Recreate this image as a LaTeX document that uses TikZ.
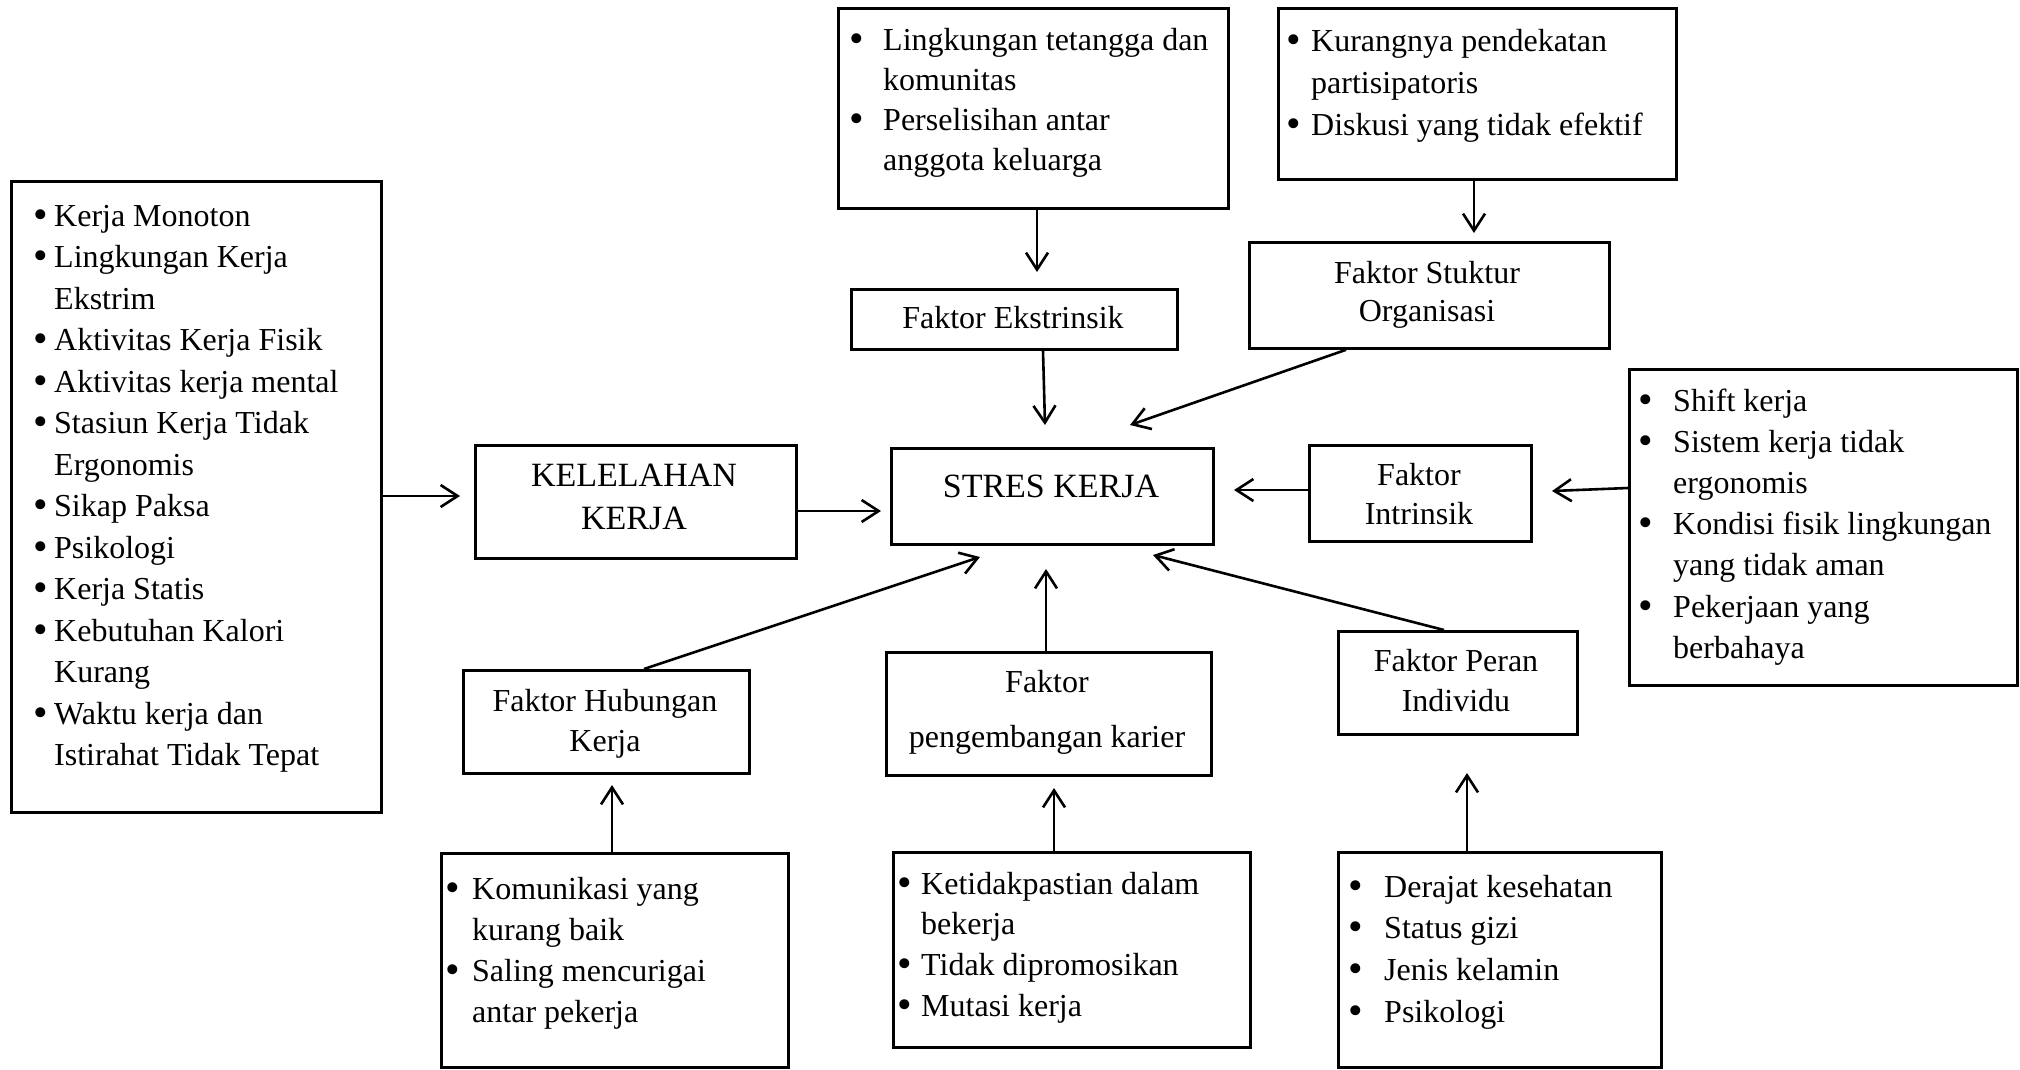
\documentclass[tikz,border=0pt]{standalone}
\usepackage{fontspec}
\usepackage{graphicx}
\setmainfont{Liberation Serif}
\usetikzlibrary{arrows.meta}
\newlength\bulw
\newcommand\bi{\makebox[\bulw][l]{\raisebox{-2pt}{\scalebox{1.3}{\textbullet}}}}
\newcommand\mkbox[5]{\node[bx, anchor=north west, minimum width={#4-#2}, minimum height={#5-#3}] (#1) at (#2,#3) {};}
\begin{document}
\begin{tikzpicture}[x=1pt,y=-1pt,
  bx/.style={draw, line width=2.8pt, inner sep=0pt},
  lst/.style={anchor=base west, inner sep=0pt, font=\fontsize{32}{41.5}\selectfont},
  lbl/.style={align=center, inner sep=0pt, font=\fontsize{32}{40}\selectfont,
    execute at begin node=\strut, execute at end node=\strut},
  arr/.style={line width=2.6pt, -{Straight Barb[length=17pt,width=22pt]}}]
\useasboundingbox (0,0) rectangle (2020,1069);
% boxes
\mkbox{L}{10}{180}{380}{811}
\mkbox{K}{474}{444}{795}{557}
\mkbox{S}{890}{447}{1212}{543}
\mkbox{I}{1308}{444}{1530}{540}
\mkbox{R}{1628}{368}{2016}{684}
\mkbox{T1}{837}{7}{1227}{207}
\mkbox{T2}{1277}{7}{1675}{178}
\mkbox{E}{850}{288}{1176}{348}
\mkbox{O}{1248}{241}{1608}{347}
\mkbox{H}{462}{669}{748}{772}
\mkbox{P}{885}{651}{1210}{774}
\mkbox{D}{1337}{630}{1576}{733}
\mkbox{B1}{440}{852}{787}{1066}
\mkbox{B2}{892}{851}{1249}{1046}
\mkbox{B3}{1337}{851}{1660}{1066}
% labels
\node[lbl, font=\fontsize{34}{42.5}\selectfont] (Kt) at (634,503) {KELELAHAN\\KERJA};
\node[lbl, font=\fontsize{34}{42.5}\selectfont] (St) at (1051,489) {STRES KERJA};
\node[lbl, font=\fontsize{32}{39}\selectfont] (It) at (1419,500) {Faktor\\Intrinsik};
\node[lbl] (Et) at (1013,320) {Faktor Ekstrinsik};
\node[lbl, font=\fontsize{32}{38}\selectfont] (Ot) at (1427,297) {Faktor Stuktur\\Organisasi};
\node[lbl] (Ht) at (605,726) {Faktor Hubungan\\Kerja};
\node[lbl, font=\fontsize{32}{55}\selectfont] (Pt) at (1047,717) {Faktor\\pengembangan karier};
\node[lbl] (Dt) at (1456,686) {Faktor Peran\\Individu};
% lists
\node[lst] (Lt) at (33,226) {\setlength\bulw{21pt}\begin{tabular}[t]{@{}l@{}l@{}}
\bi&Kerja Monoton\\
\bi&Lingkungan Kerja\\
&Ekstrim\\
\bi&Aktivitas Kerja Fisik\\
\bi&Aktivitas kerja mental\\
\bi&Stasiun Kerja Tidak\\
&Ergonomis\\
\bi&Sikap Paksa\\
\bi&Psikologi\\
\bi&Kerja Statis\\
\bi&Kebutuhan Kalori\\
&Kurang\\
\bi&Waktu kerja dan\\
&Istirahat Tidak Tepat
\end{tabular}};
\node[lst, font=\fontsize{32}{40}\selectfont] (T1t) at (849,50) {\setlength\bulw{34pt}\begin{tabular}[t]{@{}l@{}l@{}}
\bi&Lingkungan tetangga dan\\
&komunitas\\
\bi&Perselisihan antar\\
&anggota keluarga
\end{tabular}};
\node[lst, font=\fontsize{32}{42}\selectfont] (T2t) at (1286,51) {\setlength\bulw{25pt}\begin{tabular}[t]{@{}l@{}l@{}}
\bi&Kurangnya pendekatan\\
&partisipatoris\\
\bi&Diskusi yang tidak efektif
\end{tabular}};
\node[lst, font=\fontsize{32}{41.2}\selectfont] (Rt) at (1638,411) {\setlength\bulw{35pt}\begin{tabular}[t]{@{}l@{}l@{}}
\bi&Shift kerja\\
\bi&Sistem kerja tidak\\
&ergonomis\\
\bi&Kondisi fisik lingkungan\\
&yang tidak aman\\
\bi&Pekerjaan yang\\
&berbahaya
\end{tabular}};
\node[lst, font=\fontsize{32}{41}\selectfont] (B1t) at (445,899) {\setlength\bulw{27pt}\begin{tabular}[t]{@{}l@{}l@{}}
\bi&Komunikasi yang\\
&kurang baik\\
\bi&Saling mencurigai\\
&antar pekerja
\end{tabular}};
\node[lst, font=\fontsize{32}{40.7}\selectfont] (B2t) at (897,894) {\setlength\bulw{24pt}\begin{tabular}[t]{@{}l@{}l@{}}
\bi&Ketidakpastian dalam\\
&bekerja\\
\bi&Tidak dipromosikan\\
\bi&Mutasi kerja
\end{tabular}};
\node[lst, font=\fontsize{32}{41.7}\selectfont] (B3t) at (1348,897) {\setlength\bulw{36pt}\begin{tabular}[t]{@{}l@{}l@{}}
\bi&Derajat kesehatan\\
\bi&Status gizi\\
\bi&Jenis kelamin\\
\bi&Psikologi
\end{tabular}};
% arrow end points
\coordinate (tLK) at (460,496);
\coordinate (tKS) at (881,511);
\coordinate (tIS) at (1234,490);
\coordinate (sRI) at (1628,488);
\coordinate (tRI) at (1552,491);
\coordinate (tT1) at (1037,272);
\coordinate (tT2) at (1474,233);
\coordinate (sES) at (1043,348);
\coordinate (tES) at (1045,425);
\coordinate (sOS) at (1346,347);
\coordinate (tOS) at (1130,425);
\coordinate (sHS) at (644,669);
\coordinate (tHS) at (980,557);
\coordinate (tPS) at (1046,569);
\coordinate (sDS) at (1444,630);
\coordinate (tDS) at (1153,555);
\coordinate (tB1) at (612,785);
\coordinate (tB2) at (1054,788);
\coordinate (tB3) at (1467,773);
% connectors
\draw[arr] (L.east |- tLK) -- (tLK);
\draw[arr] (K.east |- tKS) -- (tKS);
\draw[arr] (I.west |- tIS) -- (tIS);
\draw[arr] (R.west |- sRI) -- (tRI);
\draw[arr] (T1.south -| tT1) -- (tT1);
\draw[arr] (T2.south -| tT2) -- (tT2);
\draw[arr] (E.south -| sES) -- (tES);
\draw[arr] (O.south -| sOS) -- (tOS);
\draw[arr] (H.north -| sHS) -- (tHS);
\draw[arr] (P.north -| tPS) -- (tPS);
\draw[arr] (D.north -| sDS) -- (tDS);
\draw[arr] (B1.north -| tB1) -- (tB1);
\draw[arr] (B2.north -| tB2) -- (tB2);
\draw[arr] (B3.north -| tB3) -- (tB3);
\end{tikzpicture}
\end{document}
